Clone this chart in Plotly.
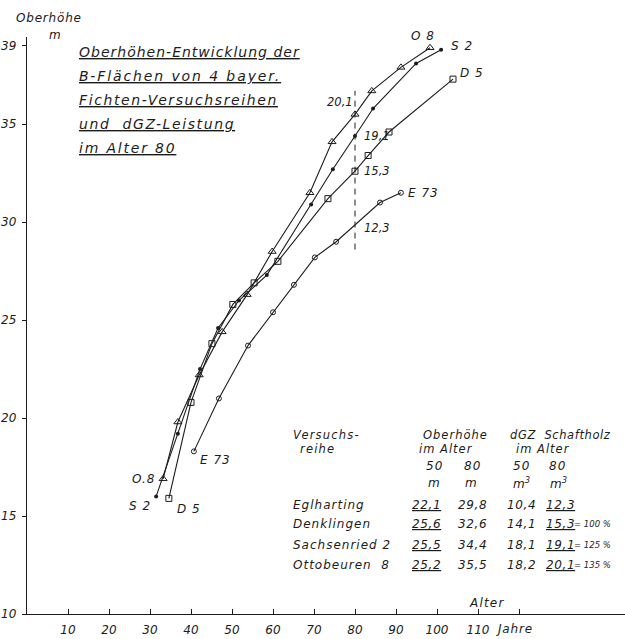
import plotly.graph_objects as go

# Oberhöhe (m) über Alter (Jahre) der B-Flächen von 4 Fichten-Versuchsreihen
age_o8 = [33.2, 36.8, 42.0, 47.6, 53.7, 59.8, 69.0, 74.4, 80.0, 84.1, 91.2, 98.3]
h_o8 = [16.9, 19.8, 22.2, 24.4, 26.3, 28.5, 31.5, 34.1, 35.5, 36.7, 37.9, 38.9]

age_s2 = [31.5, 36.8, 42.2, 46.6, 51.7, 58.5, 69.3, 74.6, 80.0, 84.4, 94.9, 101.0]
h_s2 = [16.0, 19.2, 22.5, 24.6, 26.0, 27.3, 30.9, 32.7, 34.4, 35.8, 38.1, 38.8]

age_d5 = [34.6, 40.0, 45.1, 50.2, 55.4, 61.2, 73.4, 80.0, 83.2, 88.3, 103.9]
h_d5 = [15.9, 20.8, 23.8, 25.8, 26.9, 28.0, 31.2, 32.6, 33.4, 34.6, 37.3]

age_e73 = [40.7, 46.8, 53.9, 60.0, 65.1, 70.2, 75.4, 86.1, 91.2]
h_e73 = [18.3, 21.0, 23.7, 25.4, 26.8, 28.2, 29.0, 31.0, 31.5]

# Tabelle: Versuchsreihe, Oberhöhe im Alter 50/80, dGZ Schaftholz im Alter 50/80
reihen = ["Eglharting", "Denklingen", "Sachsenried 2", "Ottobeuren  8"]
kurz = ["E 73", "D 5", "S 2", "O 8"]
oh50 = [22.1, 25.6, 25.5, 25.2]
oh80 = [29.8, 32.6, 34.4, 35.5]
dgz50 = [10.4, 14.1, 18.1, 18.2]
dgz80 = [12.3, 15.3, 19.1, 20.1]
relativ = ["", "= 100 %", "= 125 %", "= 135 %"]

x_ticks = [10, 20, 30, 40, 50, 60, 70, 80, 90, 100, 110]
x_extra_tick = [120]
y_ticks = [10, 15, 20, 25, 30, 35, 39]

alter_linie = 80
linie_von, linie_bis = 28.6, 36.7

INK = "#1c1c1c"
FONT = "DejaVu Sans"
W, H = 625, 639
ML, MR, MT, MB = 27, 0, 37, 25
X_MAX = (W - ML - MR) / 4.1
Y_MIN, Y_MAX = 10, 39.45


def de(v):
    return f"{v:.1f}".replace(".", ",")


def sp(text, ls):
    if ls == 0:
        return text
    return f'<span style="letter-spacing:{ls}px">{text}</span>'


def px(x):
    return (x - ML) / (W - ML - MR)


def py(y):
    return (H - MB - y) / (H - MT - MB)


fig = go.Figure()

line = dict(color=INK, width=1.1)
fig.add_trace(go.Scatter(x=age_e73, y=h_e73, mode="lines+markers", line=line,
                         marker=dict(symbol="circle-open", size=5, color=INK,
                                     line=dict(width=1)), name="E 73"))
fig.add_trace(go.Scatter(x=age_d5, y=h_d5, mode="lines+markers", line=line,
                         marker=dict(symbol="square-open", size=6, color=INK,
                                     line=dict(width=1)), name="D 5"))
fig.add_trace(go.Scatter(x=age_s2, y=h_s2, mode="lines+markers", line=line,
                         marker=dict(symbol="circle", size=4, color=INK), name="S 2"))
fig.add_trace(go.Scatter(x=age_o8, y=h_o8, mode="lines+markers", line=line,
                         marker=dict(symbol="triangle-up-open", size=7, color=INK,
                                     line=dict(width=1)), name="O 8"))
fig.add_trace(go.Scatter(x=[alter_linie, alter_linie], y=[linie_von, linie_bis],
                         mode="lines", line=dict(color=INK, width=1, dash="6px,5px"),
                         hoverinfo="skip"))

ann = []


def text(x, y, t, size=12, xanchor="left", yanchor="middle", under=False,
         xref="paper", yref="paper", xshift=0, yshift=0, ls=1.0):
    f = dict(family=FONT, size=size, color=INK, style="italic")
    if under:
        f["lineposition"] = "under"
    ann.append(dict(x=x, y=y, xref=xref, yref=yref, text=sp(t, ls), showarrow=False,
                    xanchor=xanchor, yanchor=yanchor, font=f, xshift=xshift,
                    yshift=yshift))


# Überschrift
titel = ["Oberhöhen-Entwicklung der", "B-Flächen von 4 bayer.",
         "Fichten-Versuchsreihen", "und  dGZ-Leistung", "im Alter 80"]
titel_ls = [1.0, 1.9, 1.6, 1.6, 1.8]
for i, t in enumerate(titel):
    text(px(77), py(52 + 24 * i), t, size=14, under=True, ls=titel_ls[i])

# Achsentitel
text(px(14), py(18), "Oberhöhe", size=12, ls=0.8)
text(px(47), py(35), "m", size=12)
text(px(467), py(603), "Alter", size=12, ls=1.2)
text(px(494), py(629), "Jahre", size=12, ls=0.8)

# Kurvenbezeichnungen am Ende und am Anfang
ends = [(age_e73, h_e73), (age_d5, h_d5), (age_s2, h_s2), (age_o8, h_o8)]
end_shift = [(5, 0, "left"), (5, 6, "left"), (8, 4, "left"), (-7, 12, "center")]
start_shift = [(4, -9, "left"), (6, -11, "left"), (-3, -10, "right"), (-6, 0, "right")]
start_name = ["E 73", "D 5", "S 2", "O.8"]
for i, (ax, ay) in enumerate(ends):
    dx, dy, anc = end_shift[i]
    text(ax[-1], ay[-1], kurz[i], size=12, xanchor=anc, xref="x", yref="y",
         xshift=dx, yshift=dy, ls=1.0)
    dx, dy, anc = start_shift[i]
    text(ax[0], ay[0], start_name[i], size=12, xanchor=anc, xref="x", yref="y",
         xshift=dx, yshift=dy, ls=1.0)

# dGZ-Werte im Alter 80 an der Bezugslinie
dgz_shift = [(7, -2, "left"), (7, 0, "left"), (7, 0, "left"), (0, 12, "right")]
for i in range(4):
    dx, dy, anc = dgz_shift[i]
    text(alter_linie, oh80[i], de(dgz80[i]), size=11.5, xanchor=anc, xref="x",
         yref="y", xshift=dx, yshift=dy, ls=0)

# Tabelle
text(px(291), py(435), "Versuchs-", size=11.5, ls=1.2)
text(px(298), py(449), "reihe", size=11.5, ls=1.2)
text(px(421), py(435), "Oberhöhe", size=11.5, ls=1.0)
text(px(417), py(449), "im Alter", size=11.5, ls=1.0)
text(px(508), py(435), "dGZ  Schaftholz", size=11.5, ls=0.6)
text(px(514), py(449), "im Alter", size=11.5, ls=1.0)
for cx, t in zip([434, 473, 521, 557], ["50", "80", "50", "80"]):
    text(px(cx), py(466), t, size=12, xanchor="center", ls=1.0)
for cx, t in zip([434, 471, 521, 558], ["m", "m", "m<sup>3</sup>", "m<sup>3</sup>"]):
    text(px(cx), py(483), t, size=12, xanchor="center", ls=0)

row_y = [505, 524, 545, 565]
for i in range(4):
    yy = py(row_y[i])
    text(px(291), yy, reihen[i], size=12, ls=1.0)
    text(px(426), yy, de(oh50[i]), size=12, xanchor="center", under=True, ls=0.6)
    text(px(473), yy, de(oh80[i]), size=12, xanchor="center", ls=0.6)
    text(px(521), yy, de(dgz50[i]), size=12, xanchor="center", ls=0.6)
    text(px(560), yy, de(dgz80[i]), size=12, xanchor="center", under=True, ls=0.6)
    if relativ[i]:
        text(px(572), yy, relativ[i], size=8.5, ls=0)

fig.update_layout(
    width=W, height=H,
    margin=dict(l=ML, r=MR, t=MT, b=MB, pad=0),
    paper_bgcolor="white", plot_bgcolor="white",
    showlegend=False,
    font=dict(family=FONT, size=12, color=INK, style="italic"),
    annotations=ann,
    xaxis=dict(range=[0, X_MAX], tickvals=x_ticks,
               ticks="inside", ticklen=5, tickwidth=1, tickcolor=INK,
               minor=dict(tickvals=x_extra_tick, ticks="inside", ticklen=5,
                          tickwidth=1, tickcolor=INK, showgrid=False),
               showline=True, linecolor=INK, linewidth=1.4, showgrid=False,
               zeroline=False, tickfont=dict(size=12, style="italic"),
               ticklabelstandoff=4),
    yaxis=dict(range=[Y_MIN, Y_MAX], tickvals=y_ticks, ticks="outside", ticklen=4,
               tickwidth=1, tickcolor=INK, showline=True, linecolor=INK,
               linewidth=1.4, showgrid=False, zeroline=False,
               tickfont=dict(size=12, style="italic"), ticklabelstandoff=3),
)

fig.write_html("out.html")
